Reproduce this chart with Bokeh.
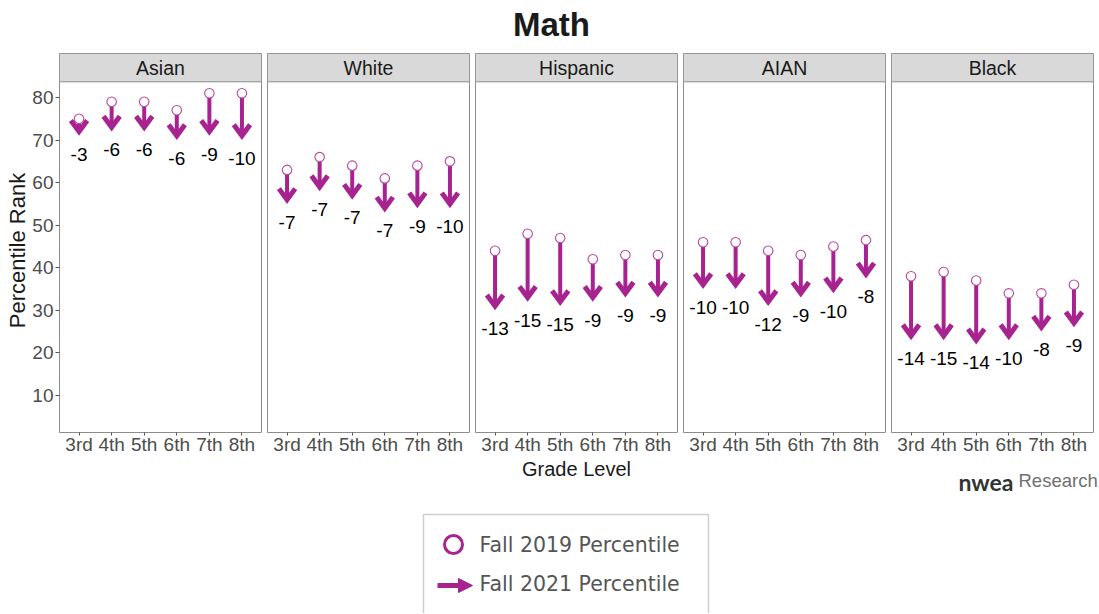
from math import pi
from bokeh.plotting import figure
from bokeh.models import Range1d, FixedTicker, Arrow, NormalHead
from bokeh.layouts import row, column
from bokeh.embed import file_html
from bokeh.resources import INLINE
from bokeh.core.properties import value

# ---------------- data ----------------
groups = ["Asian", "White", "Hispanic", "AIAN", "Black"]
grades = ["3rd", "4th", "5th", "6th", "7th", "8th"]

asian_2019 = [75, 79, 79, 77, 81, 81]
asian_change = [-3, -6, -6, -6, -9, -10]
white_2019 = [63, 66, 64, 61, 64, 65]
white_change = [-7, -7, -7, -7, -9, -10]
hispanic_2019 = [44, 48, 47, 42, 43, 43]
hispanic_change = [-13, -15, -15, -9, -9, -9]
aian_2019 = [46, 46, 44, 43, 45, 46.5]
aian_change = [-10, -10, -12, -9, -10, -8]
black_2019 = [38, 39, 37, 34, 34, 36]
black_change = [-14, -15, -14, -10, -8, -9]

y_ticks = [10, 20, 30, 40, 50, 60, 70, 80]

series = {
    "Asian": (asian_2019, asian_change),
    "White": (white_2019, white_change),
    "Hispanic": (hispanic_2019, hispanic_change),
    "AIAN": (aian_2019, aian_change),
    "Black": (black_2019, black_change),
}

# ---------------- styles ----------------
FONT = "Liberation Sans"
MAGENTA = "#A7238F"
CIRCLE_LINE = "#B9479F"
BORDER = "#8C8C8C"
STRIP = "#D9D9D9"
Y0, Y_PANEL_TOP, Y1 = 1.31, 83.69, 90.34
X0, X1 = 0.4, 6.6
PANEL_TOP = 53
FRAME_H = 379
BORDER_B = 25
ROW_H = FRAME_H + BORDER_B
ROW_BOTTOM = PANEL_TOP + ROW_H
YLAB_W = 29


def make_panel(name, v19, chg, first, bl, br):
    p = figure(frame_width=202, frame_height=FRAME_H,
               x_range=Range1d(X0, X1), y_range=Range1d(Y0, Y1),
               output_backend="svg", toolbar_location=None, title=None,
               y_axis_location="left" if first else None,
               min_border_left=bl, min_border_right=br,
               min_border_top=0, min_border_bottom=BORDER_B,
               background_fill_color="white", border_fill_color="white",
               outline_line_color=BORDER, outline_line_width=1)
    p.grid.visible = False
    xs = [i + 1 for i in range(len(grades))]
    p.xaxis.ticker = FixedTicker(ticks=xs)
    p.xaxis.major_label_overrides = {x: g for x, g in zip(xs, grades)}
    p.xaxis.axis_line_color = None
    p.xaxis.major_tick_out = 3
    p.xaxis.major_tick_in = 0
    p.xaxis.minor_tick_line_color = None
    p.xaxis.major_tick_line_color = "#555555"
    p.xaxis.major_label_text_font = FONT
    p.xaxis.major_label_text_font_size = "19px"
    p.xaxis.major_label_text_color = "#4D4D4D"
    p.xaxis.major_label_standoff = -2
    if first:
        p.yaxis.ticker = FixedTicker(ticks=y_ticks)
        p.yaxis.axis_line_color = None
        p.yaxis.major_tick_out = 4
        p.yaxis.major_tick_in = 0
        p.yaxis.minor_tick_line_color = None
        p.yaxis.major_tick_line_color = "#555555"
        p.yaxis.major_label_text_font = FONT
        p.yaxis.major_label_text_font_size = "19px"
        p.yaxis.major_label_text_color = "#4D4D4D"
        p.yaxis.major_label_standoff = 2

    # strip
    p.quad(left=[X0], right=[X1], bottom=[Y_PANEL_TOP], top=[Y1],
           fill_color=STRIP, line_color=BORDER, line_width=1)
    p.text(x=[(X0 + X1) / 2], y=[(Y_PANEL_TOP + Y1) / 2], text=[name],
           text_align="center", text_baseline="middle",
           text_font=value(FONT), text_font_size="19.5px", text_color="#1A1A1A")

    ends = [a + c for a, c in zip(v19, chg)]
    # shafts
    p.segment(x0=xs, y0=v19, x1=xs, y1=ends, line_color=MAGENTA, line_width=4)
    # open heads
    hx = [[x - 0.25, x, x + 0.25] for x in xs]
    hy = [[e + 2.6, e, e + 2.6] for e in ends]
    p.multi_line(xs=hx, ys=hy, line_color=MAGENTA, line_width=5, line_join="miter")
    # 2019 circles
    c = p.scatter(x=xs, y=v19, size=9.5, marker="circle", fill_color="white",
                  line_color=CIRCLE_LINE, line_width=1.1)
    c.level = "overlay"
    # change labels
    p.text(x=xs, y=[e - 5.3 for e in ends], text=[str(v) for v in chg],
           text_align="center", text_baseline="middle",
           text_font=value(FONT), text_font_size="19px", text_color="#000000")
    return p


# left strip with y-axis title
ylab = figure(width=YLAB_W, height=ROW_H, x_range=Range1d(0, YLAB_W),
              y_range=Range1d(-ROW_BOTTOM, -PANEL_TOP),
              output_backend="svg", toolbar_location=None, title=None,
              x_axis_location=None, y_axis_location=None, min_border=0,
              outline_line_color=None, background_fill_color="white",
              border_fill_color="white")
ylab.grid.visible = False
ylab.text(x=[17], y=[-263], text=["Percentile Rank"], angle=pi / 2,
          text_align="center", text_baseline="middle",
          text_font=value(FONT), text_font_size="22px", text_color="#1A1A1A")

panels = []
for i, g in enumerate(groups):
    v19, chg = series[g]
    if i == 0:
        panels.append(make_panel(g, v19, chg, True, 59 - YLAB_W, 3))
    elif i == len(groups) - 1:
        panels.append(make_panel(g, v19, chg, False, 3, 5))
    else:
        panels.append(make_panel(g, v19, chg, False, 3, 3))

W = YLAB_W + (59 - YLAB_W + 205) + 3 * 208 + 210

# title
top = figure(width=W, height=PANEL_TOP, x_range=Range1d(0, W), y_range=Range1d(PANEL_TOP, 0),
             output_backend="svg", toolbar_location=None, title=None,
             x_axis_location=None, y_axis_location=None, min_border=0,
             outline_line_color=None, background_fill_color="white",
             border_fill_color="white")
top.grid.visible = False
top.text(x=[551], y=[24], text=["Math"], text_align="center", text_baseline="middle",
         text_font=value(FONT), text_font_style="bold", text_font_size="33px",
         text_color="#1A1A1A")

# bottom: x title, logo, legend
BOT_H = 613 - ROW_BOTTOM
bot = figure(width=W, height=BOT_H, x_range=Range1d(0, W),
             y_range=Range1d(ROW_BOTTOM + BOT_H, ROW_BOTTOM),
             output_backend="svg", toolbar_location=None, title=None,
             x_axis_location=None, y_axis_location=None, min_border=0,
             outline_line_color=None, background_fill_color="white",
             border_fill_color="white")
bot.grid.visible = False
bot.text(x=[576], y=[468.5], text=["Grade Level"], text_align="center",
         text_baseline="middle", text_font=value(FONT), text_font_size="20px",
         text_color="#1A1A1A")
bot.text(x=[1013], y=[481], text=["nwea"], text_align="right", text_baseline="middle",
         text_font=value("Lato"), text_font_style="bold", text_font_size="23px",
         text_color="#333333")
bot.text(x=[1018], y=[480], text=["Research"], text_align="left", text_baseline="middle",
         text_font=value(FONT), text_font_size="18.5px", text_color="#707070")
# legend box
bot.quad(left=[423], right=[708], top=[514], bottom=[620], fill_color="white",
         line_color="#CFCFCF", line_width=1.5)
bot.scatter(x=[453], y=[544], marker="circle", size=18, fill_color="white",
            line_color=MAGENTA, line_width=3)
bot.add_layout(Arrow(x_start=437, y_start=585, x_end=472, y_end=585,
                     line_color=MAGENTA, line_width=5,
                     end=NormalHead(size=14, fill_color=MAGENTA, line_color=MAGENTA,
                                    line_width=1)))
bot.text(x=[479, 479], y=[544, 583], text=["Fall 2019 Percentile", "Fall 2021 Percentile"],
         text_align="left", text_baseline="middle", text_font=value("DejaVu Sans"),
         text_font_size="20.5px", text_color="#555555")

layout = column(top, row(ylab, *panels, spacing=0), bot, spacing=0)
open("out.html", "w").write(file_html(layout, INLINE, title="Math"))
